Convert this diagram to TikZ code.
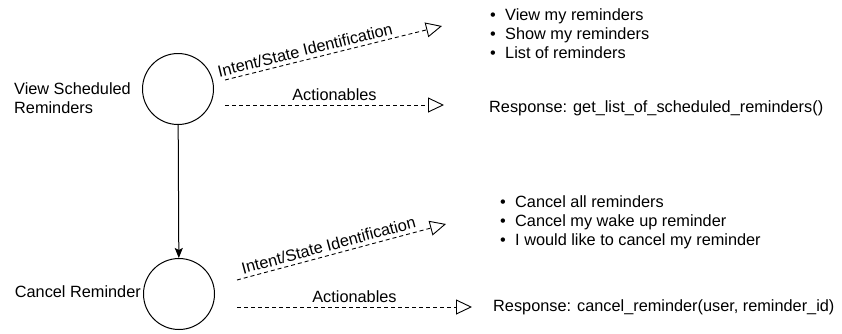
\documentclass[tikz,border=0pt]{standalone}
\usepackage{fontspec}
\setmainfont{Liberation Sans}
\usetikzlibrary{arrows.meta,positioning}

\newcommand{\phrasebullet}{\makebox[15pt][l]{•}}

\tikzset{
  state/.style={draw, circle, minimum size=71pt, inner sep=0pt, line width=1pt},
  lbl/.style={inner sep=0pt, font=\fontsize{16.3}{19}\selectfont},
  edgelbl/.style={inner sep=3.5pt, font=\fontsize{16.3}{19}\selectfont},
  flow/.style={line width=0.9pt, dash pattern=on 4pt off 3pt,
    -{Triangle[open, length=16pt, width=15pt]}}
}

\begin{document}
\begin{tikzpicture}[x=1pt, y=-1pt]
  \useasboundingbox (0,0) rectangle (842,333);

  % States
  \node[state] (view)   at (178,89)  {};
  \node[state] (cancel) at (179,294) {};

  \node[lbl, align=left, left=11pt of view, yshift=-9pt] (viewlbl) {View Scheduled\\Reminders};
  \node[lbl, left=2pt of cancel, yshift=2pt] (cancellbl) {Cancel Reminder};

  % Transition
  \draw[line width=1pt, -{Stealth[length=10pt, width=8pt, inset=2pt]}] (view) -- (cancel);

  % View scheduled reminders
  \coordinate (viewintent-s) at (225,80);
  \coordinate (viewintent-e) at (442,26);
  \coordinate (viewact-s)    at (225,105);
  \coordinate (viewact-e)    at (444,105);

  \draw[flow] (viewintent-s) -- node[edgelbl, sloped, above, pos=0.38] {Intent/State Identification} (viewintent-e);
  \draw[flow] (viewact-s) -- node[edgelbl, above] {Actionables} (viewact-e);

  \node[lbl, align=left, anchor=west] (viewphrases) at (490,34)
    {\phrasebullet View my reminders\\\phrasebullet Show my reminders\\\phrasebullet List of reminders};
  \node[lbl, anchor=west] (viewresp) at (489,108) {Response: get\_list\_of\_scheduled\_reminders()};

  % Cancel reminder
  \coordinate (cancelintent-s) at (237,280);
  \coordinate (cancelintent-e) at (446,224);
  \coordinate (cancelact-s)    at (237,307);
  \coordinate (cancelact-e)    at (472,307);

  \draw[flow] (cancelintent-s) -- node[edgelbl, sloped, above, pos=0.45] {Intent/State Identification} (cancelintent-e);
  \draw[flow] (cancelact-s) -- node[edgelbl, above] {Actionables} (cancelact-e);

  \node[lbl, align=left, anchor=west] (cancelphrases) at (500,222)
    {\phrasebullet Cancel all reminders\\\phrasebullet Cancel my wake up reminder\\\phrasebullet I would like to cancel my reminder};
  \node[lbl, anchor=west] (cancelresp) at (493,307) {Response: cancel\_reminder(user, reminder\_id)};

\end{tikzpicture}
\end{document}
